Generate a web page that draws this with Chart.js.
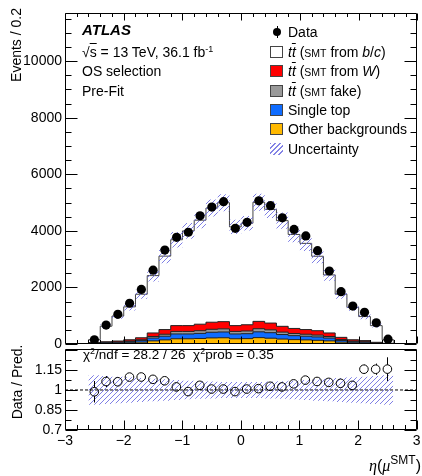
<!DOCTYPE html>
<html><head><meta charset="utf-8">
<script src="https://cdn.jsdelivr.net/npm/chart.js@4.4.0/dist/chart.umd.min.js"></script>
<style>
body{margin:0;background:#fff;}
#wrap{position:relative;width:422px;height:476px;overflow:hidden;font-family:"Liberation Sans",Arial,sans-serif;color:#000;background:#fff;}
canvas{position:absolute;left:0;}
.t{position:absolute;white-space:nowrap;font-size:14px;line-height:18px;height:18px;}
.box{position:absolute;left:270px;width:13px;height:12px;box-sizing:border-box;border:1px solid #444;}
.sc{font-size:10.5px;}
.ov{text-decoration:overline;}
sup{font-size:9px;vertical-align:5px;line-height:0;}
.rot{position:absolute;white-space:nowrap;font-size:14px;line-height:18px;height:18px;transform-origin:right top;transform:rotate(-90deg);}
</style></head><body>
<div id="wrap">
<canvas id="c1" width="422" height="360" style="top:0;width:422px;height:360px"></canvas>
<canvas id="c2" width="422" height="132" style="top:344px;width:422px;height:132px"></canvas>

<div class="rot" style="left:-193px;top:8px;width:200px;text-align:right;">Events / 0.2</div>
<div class="rot" style="left:-112px;top:322px;width:120px;text-align:center;">Data / Pred.</div>

<div class="t" style="left:82px;top:21px;font-weight:bold;font-style:italic;font-size:15px;">ATLAS</div>
<div class="t" style="left:82px;top:43px;">√<span class="ov">s</span> = 13 TeV, 36.1 fb<sup>-1</sup></div>
<div class="t" style="left:82px;top:62px;">OS selection</div>
<div class="t" style="left:82px;top:82px;">Pre-Fit</div>

<div style="position:absolute;left:273px;top:28px;width:8px;height:8px;border-radius:50%;background:#000;"></div>
<div style="position:absolute;left:276.5px;top:26px;width:1px;height:12px;background:#000;"></div>
<div class="t" style="left:288px;top:23px;">Data</div>
<div class="box" style="top:46px;background:#fff;"></div>
<div class="t" style="left:288px;top:43px;"><i>t</i><i class="ov">t</i> (<span class="sc">SMT</span> from <i>b</i>/<i>c</i>)</div>
<div class="box" style="top:65px;background:#ff0000;"></div>
<div class="t" style="left:288px;top:62px;"><i>t</i><i class="ov">t</i> (<span class="sc">SMT</span> from <i>W</i>)</div>
<div class="box" style="top:85px;background:#999999;"></div>
<div class="t" style="left:288px;top:82px;"><i>t</i><i class="ov">t</i> (<span class="sc">SMT</span> fake)</div>
<div class="box" style="top:104px;background:#0f6cff;"></div>
<div class="t" style="left:288px;top:101px;">Single top</div>
<div class="box" style="top:123px;background:#ffb900;"></div>
<div class="t" style="left:288px;top:120px;">Other backgrounds</div>
<div class="box" style="top:143px;border:none;background:repeating-linear-gradient(135deg,rgba(110,110,225,0.85) 0 1px,transparent 1px 3.5px);"></div>
<div class="t" style="left:288px;top:140px;">Uncertainty</div>

<div class="t" style="left:83px;top:346px;font-size:13.5px;">χ<sup>2</sup>/ndf = 28.2 / 26&nbsp;&nbsp;χ<sup>2</sup>prob = 0.35</div>

<div class="t" style="right:1px;top:456px;font-size:16px;line-height:20px;height:20px;"><i style="font-family:'Liberation Serif',serif;">η</i>(<i style="font-family:'Liberation Serif',serif;">μ</i><sup style="font-size:12px;vertical-align:7px;">SMT</sup>)</div>
</div>

<script>
// ---- data ----
const binCenters = [-2.5,-2.3,-2.1,-1.9,-1.7,-1.5,-1.3,-1.1,-0.9,-0.7,-0.5,-0.3,-0.1,0.1,0.3,0.5,0.7,0.9,1.1,1.3,1.5,1.7,1.9,2.1,2.3,2.5];
const binWidth = 0.2;
const dataCounts = [150,670,1050,1440,1930,2610,3320,3770,3950,4530,4840,5030,4090,4300,5060,4890,4460,4050,3820,3300,2580,1850,1340,1120,750,170];
const ttbarBC    = [102,550,884,1163,1539,2027,2596,3035,3348,3677,4036,4205,3490,3590,4210,4017,3735,3322,3047,2632,2051,1527,1145,849,589,122];
const ttbarW     = [17,25,33,45,70,125,165,205,205,230,250,255,205,220,260,240,205,180,165,155,125,78,47,40,19,8];
const ttbarFake  = [6,10,14,20,30,55,70,90,90,95,105,110,90,95,110,100,85,75,70,65,55,32,20,15,8,3];
const singleTop  = [12,20,28,40,55,100,130,170,170,180,200,205,170,175,205,195,160,140,130,120,100,60,38,30,15,6];
const otherBkg   = [15,25,30,45,65,110,145,185,185,195,215,220,185,190,225,205,175,155,145,130,110,65,45,35,18,8];
const uncRel     = [0.11,0.105,0.10,0.095,0.09,0.085,0.08,0.075,0.07,0.066,0.063,0.06,0.06,0.06,0.06,0.063,0.066,0.07,0.075,0.08,0.085,0.09,0.095,0.10,0.105,0.11];
const mainYTicks = [0,2000,4000,6000,8000,10000];
const ratioYTicks = [0.7,0.85,1,1.15];
const xTicks = [-3,-2,-1,0,1,2,3];

// ---- derived ----
const n = binCenters.length;
const lowEdges = binCenters.map(c => +(c - binWidth/2).toFixed(3));
const lastEdge = +(binCenters[n-1] + binWidth/2).toFixed(3);
const cum1 = otherBkg.slice();
const cum2 = cum1.map((v,i)=>v+singleTop[i]);
const cum3 = cum2.map((v,i)=>v+ttbarFake[i]);
const cum4 = cum3.map((v,i)=>v+ttbarW[i]);
const total = cum4.map((v,i)=>v+ttbarBC[i]);
const ratio = dataCounts.map((d,i)=>d/total[i]);
const ratioErr = dataCounts.map((d,i)=>Math.sqrt(d)/total[i]);

function histPts(vals, closed){
  const p = [];
  if (closed) p.push({x: lowEdges[0], y: 0});
  vals.forEach((v,i)=>p.push({x: lowEdges[i], y: v}));
  p.push({x: lastEdge, y: vals[n-1]});
  if (closed) p.push({x: lastEdge, y: 0});
  return p;
}
function hatchPattern(){
  const c = document.createElement('canvas'); c.width = 5; c.height = 5;
  const g = c.getContext('2d');
  g.strokeStyle = 'rgba(105,105,225,0.85)'; g.lineWidth = 1;
  g.beginPath();
  g.moveTo(0,5); g.lineTo(5,0);
  g.moveTo(-1,1); g.lineTo(1,-1);
  g.moveTo(4,6); g.lineTo(6,4);
  g.stroke();
  return g.createPattern(c,'repeat');
}
const hatch = hatchPattern();

function stepDs(vals, color, border, fill, closed, order){
  return {type:'line', data: histPts(vals, closed), stepped:true, borderColor:border, borderWidth:border?1:0,
    backgroundColor:color, fill:fill, pointRadius:0, tension:0, order:order};
}

function framePlugin(cfg){
  return {id:'frame'+cfg.id, afterDatasetsDraw(chart){
    const ctx = chart.ctx, a = chart.chartArea, xs = chart.scales.x, ys = chart.scales.y;
    ctx.save();
    ctx.strokeStyle = '#000'; ctx.lineWidth = 1;
    ctx.beginPath();
    const L = Math.round(a.left)+0.5, R = Math.round(a.right)-0.5, T = Math.round(a.top)+0.5, B = Math.round(a.bottom)-0.5;
    ctx.rect(L, T, R-L, B-T);
    const xt = (v, len) => { const px = Math.round(xs.getPixelForValue(v))+0.5;
      ctx.moveTo(px, B); ctx.lineTo(px, B-len); if (cfg.topTicks){ctx.moveTo(px, T); ctx.lineTo(px, T+len);} };
    const yt = (v, len) => { const py = Math.round(ys.getPixelForValue(v))+0.5;
      ctx.moveTo(L, py); ctx.lineTo(L+len, py); ctx.moveTo(R, py); ctx.lineTo(R-len, py); };
    for (let v = -3; v <= 3.0001; v += 0.2) {
      const isMajor = Math.abs(v - Math.round(v)) < 1e-6;
      xt(v, isMajor ? cfg.xMaj : cfg.xMin);
    }
    for (let v = cfg.yMin; v <= cfg.yMax + 1e-9; v += cfg.yMinorStep) {
      const isMajor = cfg.yMajor.some(m => Math.abs(m - v) < 1e-6);
      yt(v, isMajor ? 12 : 6);
    }
    ctx.stroke();
    ctx.restore();
  }};
}

const fontTick = {family:'"Liberation Sans", Arial, sans-serif', size:14};
function yAxis(min, max, ticksArr, fmt){
  return {type:'linear', min:min, max:max,
    grid:{display:false, drawTicks:false}, border:{display:false},
    ticks:{font:fontTick, color:'#000', padding:3, callback:fmt},
    afterBuildTicks(s){ s.ticks = ticksArr.map(v=>({value:v})); },
    afterFit(s){ s.width = 65; s.paddingTop = 0; s.paddingBottom = 0; }};
}

// ---- main chart ----
new Chart(document.getElementById('c1'), {
  data: { datasets: [
    {type:'line', data: binCenters.map((c,i)=>({x:c, y:dataCounts[i]})), showLine:false,
      pointRadius:4.6, pointBackgroundColor:'#000', pointBorderColor:'#000', pointBorderWidth:0, order:0},
    {...stepDs(total.map((v,i)=>v*(1-uncRel[i])), 'rgba(0,0,0,0)', null, false, false, 1)},
    {...stepDs(total.map((v,i)=>v*(1+uncRel[i])), hatch, null, 1, false, 2)},
    stepDs(cum1, '#ffb900', '#222', 'origin', true, 3),
    stepDs(cum2, '#0f6cff', '#222', 'origin', true, 4),
    stepDs(cum3, '#999999', '#222', 'origin', true, 5),
    stepDs(cum4, '#ff0000', '#222', 'origin', true, 6),
    stepDs(total, '#ffffff', '#444', 'origin', true, 7)
  ]},
  options: {
    responsive:false, animation:false, events:[],
    layout:{padding:{top:13, bottom:16, left:0, right:2}},
    plugins:{legend:{display:false}, tooltip:{enabled:false}},
    scales:{
      x:{type:'linear', min:-3, max:3, display:false},
      y: yAxis(0, 11700, mainYTicks, v => String(v))
    }
  },
  plugins:[framePlugin({id:1, xMaj:7, xMin:3.5, topTicks:true, yMin:0, yMax:11700, yMinorStep:500, yMajor:mainYTicks})]
});

// ---- ratio chart ----
const errPlugin = {id:'err', afterDatasetsDraw(chart){
  const ctx = chart.ctx, xs = chart.scales.x, ys = chart.scales.y, a = chart.chartArea, r = 4.3;
  ctx.save(); ctx.beginPath(); ctx.rect(a.left, a.top, a.right-a.left, a.bottom-a.top); ctx.clip();
  ctx.strokeStyle = '#000'; ctx.lineWidth = 1; ctx.beginPath();
  binCenters.forEach((c,i)=>{
    const px = Math.round(xs.getPixelForValue(c))+0.5;
    const pc = ys.getPixelForValue(ratio[i]);
    const ph = ys.getPixelForValue(ratio[i]+ratioErr[i]);
    const pl = ys.getPixelForValue(ratio[i]-ratioErr[i]);
    if (pc - r > ph) { ctx.moveTo(px, ph); ctx.lineTo(px, pc - r); }
    if (pl > pc + r) { ctx.moveTo(px, pc + r); ctx.lineTo(px, pl); }
  });
  ctx.stroke(); ctx.restore();
}};

new Chart(document.getElementById('c2'), {
  data: { datasets: [
    {type:'line', data: binCenters.map((c,i)=>({x:c, y:ratio[i]})), showLine:false,
      pointRadius:4.3, pointBackgroundColor:'rgba(0,0,0,0)', pointBorderColor:'#000', pointBorderWidth:1, order:0},
    {type:'line', data:[{x:-3,y:1},{x:3,y:1}], borderColor:'#000', borderWidth:1, borderDash:[3,2], pointRadius:0, fill:false, order:1},
    {...stepDs(uncRel.map(u=>1-u), 'rgba(0,0,0,0)', null, false, false, 2)},
    {...stepDs(uncRel.map(u=>1+u), hatch, null, 2, false, 3)}
  ]},
  options: {
    responsive:false, animation:false, events:[],
    layout:{padding:{top:0, bottom:0, left:0, right:2}},
    plugins:{legend:{display:false}, tooltip:{enabled:false}},
    scales:{
      x:{type:'linear', min:-3, max:3,
        grid:{display:false, drawTicks:false}, border:{display:false},
        ticks:{font:fontTick, color:'#000', padding:3, autoSkip:false, maxRotation:0,
          callback: v => String(v).replace('-', '\u2212')},
        afterBuildTicks(s){ s.ticks = xTicks.map(v=>({value:v})); },
        afterFit(s){ s.height = 46; s.paddingLeft = 0; s.paddingRight = 0; }},
      y: yAxis(0.7, 1.305, ratioYTicks, v => String(v))
    }
  },
  plugins:[errPlugin, framePlugin({id:2, xMaj:9, xMin:4.5, topTicks:false, yMin:0.7, yMax:1.305, yMinorStep:0.075, yMajor:ratioYTicks.concat([1.3])})]
});
</script>
</body></html>
